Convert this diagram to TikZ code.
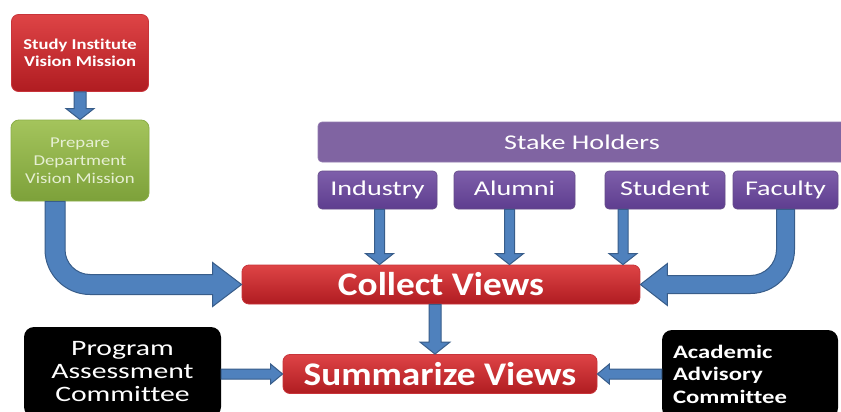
\documentclass[tikz,border=0pt]{standalone}
\usepackage{graphicx}
\usepackage{fontspec}
\setmainfont{Carlito}[Ligatures=NoCommon]
\usetikzlibrary{calc}
\definecolor{arrfill}{HTML}{4F81BD}
\definecolor{arrdraw}{HTML}{385D8A}
\definecolor{redT}{HTML}{DE4446}
\definecolor{redB}{HTML}{B01C21}
\definecolor{redD}{HTML}{C8343A}
\definecolor{grnT}{HTML}{A4C45C}
\definecolor{grnB}{HTML}{7DA13A}
\definecolor{grnD}{HTML}{8BAE48}
\definecolor{grnText}{HTML}{E6EFD3}
\definecolor{purBar}{HTML}{8064A2}
\definecolor{purT}{HTML}{7E5FAA}
\definecolor{purB}{HTML}{5E3D8F}
\newcommand\sx[2]{\scalebox{#1}[1]{#2}}
\newcommand\vblk[5]{\path[barrow] let \p1=(#1), \p2=(#2) in
  (\x1-#3,\y1) -- (\x1-#3,\y2+#5) -- (\x1-#4,\y2+#5) -- (\x1,\y2) --
  (\x1+#4,\y2+#5) -- (\x1+#3,\y2+#5) -- (\x1+#3,\y1) -- cycle;}
\newcommand\rblk[5]{\path[barrow] let \p1=(#1), \p2=(#2) in
  (\x1,\y1-#3) -- (\x2-#5,\y1-#3) -- (\x2-#5,\y1-#4) -- (\x2,\y1) --
  (\x2-#5,\y1+#4) -- (\x2-#5,\y1+#3) -- (\x1,\y1+#3) -- cycle;}
\newcommand\lblk[5]{\path[barrow] let \p1=(#1), \p2=(#2) in
  (\x1,\y1-#3) -- (\x2+#5,\y1-#3) -- (\x2+#5,\y1-#4) -- (\x2,\y1) --
  (\x2+#5,\y1+#4) -- (\x2+#5,\y1+#3) -- (\x1,\y1+#3) -- cycle;}
\tikzset{
  box/.style={inner sep=0pt, text=white, align=center},
  redbox/.style={box, rounded corners=7pt, top color=redT, bottom color=redB, draw=redD, line width=0.8pt},
  grnbox/.style={box, rounded corners=8pt, top color=grnT, bottom color=grnB, draw=grnD, line width=0.8pt, text=grnText},
  purbar/.style={box, rounded corners=4pt, fill=purBar, draw=purBar!85!white, line width=0.6pt},
  purbox/.style={box, rounded corners=4pt, top color=purT, bottom color=purB, draw=purT!80!black, line width=0.6pt,
     minimum height=38pt, text height=15pt, text depth=4pt, font=\fontsize{21}{24}\selectfont},
  blkbox/.style={box, rounded corners=10pt, fill=black},
  barrow/.style={fill=arrfill, draw=arrdraw, line width=1pt, line join=miter},
}
\begin{document}
\begin{tikzpicture}[x=1pt,y=-1pt]
\useasboundingbox (0,0) rectangle (841,412);
\clip (0,0) rectangle (841,412);
\fill[white] (0,0) rectangle (841,412);

% nodes
\node[redbox, minimum width=137pt, minimum height=77pt, font=\bfseries\fontsize{15}{17}\selectfont] (study) at (80,53)
  {\sx{1.24}{Study Institute}\\\sx{1.24}{Vision Mission}};
\node[grnbox, minimum width=138pt, minimum height=81pt, font=\fontsize{15}{18}\selectfont] (prep) at (80,160.5)
  {\sx{1.25}{Prepare}\\\sx{1.25}{Department}\\\sx{1.25}{Vision Mission}};
\node[purbar, minimum width=528pt, minimum height=40pt, font=\fontsize{21}{24}\selectfont] (stake) at (582,142)
  {\sx{1.34}{Stake Holders}};
\node[purbox, minimum width=119pt] (ind) at (377.5,190) {\sx{1.34}{Industry}};
\node[purbox, minimum width=121pt] (alu) at (514.5,190) {\sx{1.34}{Alumni}};
\node[purbox, minimum width=120pt] (stu) at (665,190) {\sx{1.34}{Student}};
\node[purbox, minimum width=105pt] (fac) at (785.5,190) {\sx{1.34}{Faculty}};
\node[redbox, minimum width=398pt, minimum height=39pt, font=\bfseries\fontsize{33}{36}\selectfont] (collect) at (441,284.5)
  {\sx{1.13}{Collect Views}};
\node[redbox, minimum width=314pt, minimum height=39pt, font=\bfseries\fontsize{33}{36}\selectfont] (summ) at (440,374)
  {\sx{1.13}{Summarize Views}};
\node[blkbox, minimum width=197pt, minimum height=90pt, font=\fontsize{22}{23}\selectfont] (prog) at (122.5,372)
  {\sx{1.35}{Program}\\\sx{1.35}{Assessment}\\\sx{1.35}{Committee}};
\node[blkbox, inner xsep=11pt, text width=154pt, minimum height=88pt, align=left, font=\bfseries\fontsize{19}{22.5}\selectfont] (acad) at (750,374)
  {\sx{1.3}{Academic}\\\sx{1.3}{Advisory}\\\sx{1.3}{Committee}};

% arrows
\vblk{study.south}{prep.north}{6pt}{14pt}{11pt}
\vblk{$(ind.south)+(2pt,0)$}{collect.north}{5pt}{14pt}{11pt}
\vblk{$(alu.south)+(-5pt,0)$}{collect.north}{5pt}{14pt}{11pt}
\vblk{$(stu.south)+(-42pt,0)$}{collect.north}{5pt}{14pt}{11pt}
\vblk{$(collect.south)+(-6pt,0)$}{summ.north}{6pt}{15pt}{12pt}
\rblk{prog.east |- summ.west}{summ.west}{5pt}{10pt}{12pt}
\lblk{acad.west |- summ.east}{summ.east}{5pt}{10pt}{12pt}

% left curved arrow
\path[barrow] let \p1=($(prep.south)+(-25pt,0)$), \p2=(collect.west) in
  (\x1-10pt,\y1) -- (\x1-10pt,\y2+35pt)
  .. controls (\x1-10pt,\y2+10.25pt) and (\x1+10.25pt,\y2-10pt) .. (\x1+35pt,\y2-10pt)
  -- (\x2-29pt,\y2-10pt) -- (\x2-29pt,\y2-22pt) -- (\x2,\y2) -- (\x2-29pt,\y2+22pt)
  -- (\x2-29pt,\y2+10pt) -- (\x1+35pt,\y2+10pt)
  .. controls (\x1+21.25pt,\y2+10pt) and (\x1+10pt,\y2+21.25pt) .. (\x1+10pt,\y2+35pt)
  -- (\x1+10pt,\y1) -- cycle;

% right curved arrow
\path[barrow] let \p1=(fac.south), \p2=(collect.east) in
  (\x1+9pt,\y1) -- (\x1+9pt,\y2+35pt)
  .. controls (\x1+9pt,\y2+10.8pt) and (\x1-10.8pt,\y2-9pt) .. (\x1-35pt,\y2-9pt)
  -- (\x2+27pt,\y2-9pt) -- (\x2+27pt,\y2-21pt) -- (\x2,\y2) -- (\x2+27pt,\y2+21pt)
  -- (\x2+27pt,\y2+9pt) -- (\x1-35pt,\y2+9pt)
  .. controls (\x1-20.7pt,\y2+9pt) and (\x1-9pt,\y2+20.7pt) .. (\x1-9pt,\y2+35pt)
  -- (\x1-9pt,\y1) -- cycle;
\end{tikzpicture}
\end{document}
